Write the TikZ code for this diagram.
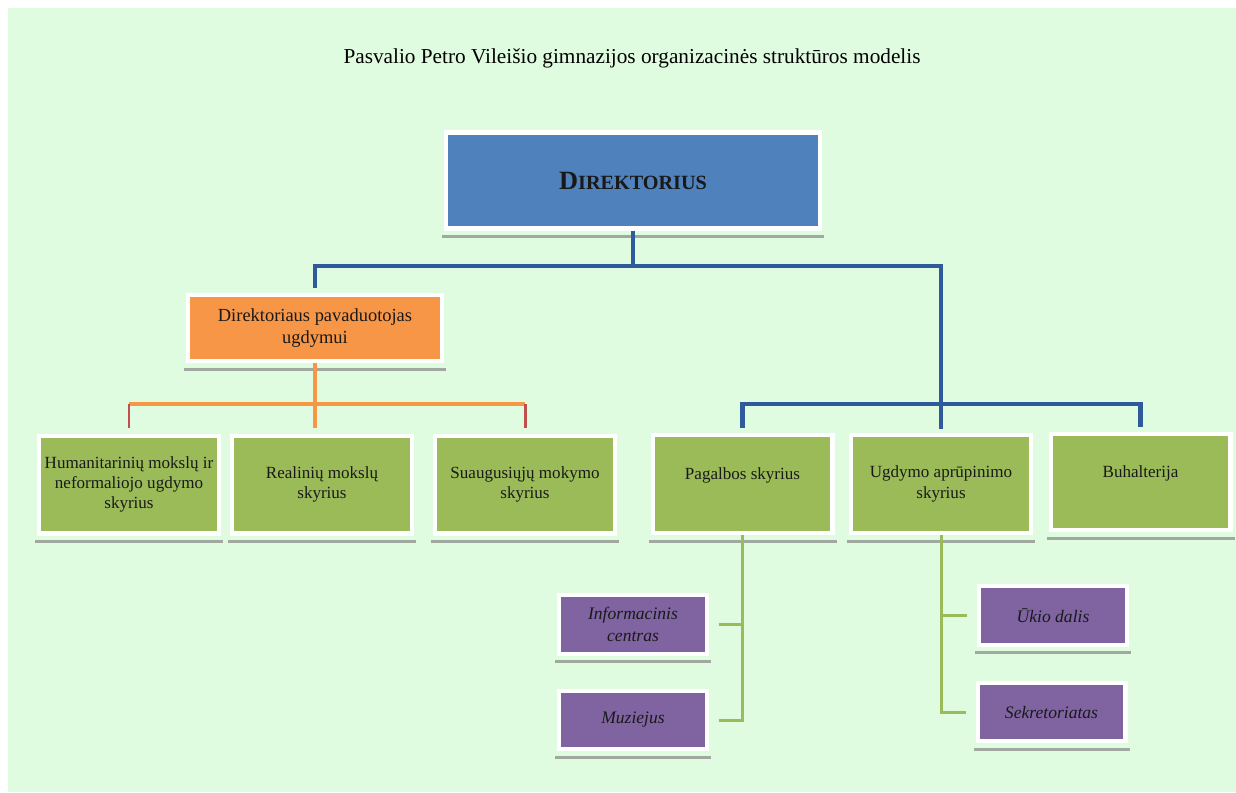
\documentclass[tikz,border=0pt]{standalone}
\usepackage{fontspec}
\setmainfont{Liberation Serif}

\definecolor{bgGreen}{RGB}{224,252,224}
\definecolor{dirBlue}{RGB}{79,129,189}
\definecolor{lineBlue}{RGB}{47,90,155}
\definecolor{pavOrange}{RGB}{247,150,70}
\definecolor{tickRed}{RGB}{192,80,77}
\definecolor{boxGreen}{RGB}{155,187,89}
\definecolor{boxPurple}{RGB}{128,100,162}
\definecolor{shadowGray}{RGB}{160,168,160}

\begin{document}
\begin{tikzpicture}[x=0.02cm,y=-0.02cm,
    box/.style={draw=white,line width=2.3pt,align=center,inner sep=0pt,text=black!90},
    dirbox/.style={box,fill=dirBlue,minimum width=7.5cm,minimum height=1.92cm,font=\bfseries},
    pavbox/.style={box,fill=pavOrange,minimum width=5.08cm,minimum height=1.32cm,
      font=\fontsize{10.5}{13}\selectfont},
    gbox/.style={box,fill=boxGreen,minimum width=3.6cm,minimum height=1.96cm,
      font=\fontsize{9.7}{11.5}\selectfont},
    pbox/.style={box,fill=boxPurple,minimum width=2.96cm,minimum height=1.17cm,
      font=\fontsize{10}{12.5}\selectfont\itshape},
    shadowline/.style={shadowGray,line width=1.7pt},
    bline/.style={lineBlue,line width=2.8pt},
    oline/.style={pavOrange,line width=2.8pt},
    rline/.style={tickRed,line width=1.7pt},
    gline/.style={boxGreen,line width=1.7pt}]

    \useasboundingbox (0,0) rectangle (1236,792);
    \fill [white] (0,0) rectangle (1236,792);
    \fill [bgGreen] (8,8) rectangle (1236,792);

    \node (title) at (632,58) {\fontsize{12.1}{14}\selectfont Pasvalio Petro Vileišio gimnazijos organizacinės struktūros modelis};

    \node [dirbox] (dir) at (633,180.5) {{\fontsize{15}{15}\selectfont D}\fontsize{11.5}{15}\selectfont IREKTORIUS};
    \node [pavbox] (pav) at (315,328) {Direktoriaus pavaduotojas\\ugdymui};

    \node [gbox] (hum) at (129,484.5) {Humanitarinių mokslų ir\\neformaliojo ugdymo\\skyrius};
    \node [gbox] (rea) at (322,484.5) {Realinių mokslų\\skyrius};
    \node [gbox] (sua) at (525,484.5) {Suaugusiųjų mokymo\\skyrius};
    \node [gbox] (pag) at (742.5,484) {Pagalbos skyrius\\~};
    \node [gbox] (ugd) at (941,484) {Ugdymo aprūpinimo\\skyrius};
    \node [gbox,minimum height=1.92cm] (buh) at (1140.5,482) {Buhalterija\\~};

    \node [pbox] (inf) at (633,624.5) {Informacinis\\centras};
    \node [pbox] (muz) at (633,720) {Muziejus};
    \node [pbox] (uki) at (1053,615.5) {Ūkio dalis};
    \node [pbox] (sek) at (1051.5,712) {Sekretoriatas};

    % shadows under the boxes
    \foreach \n in {dir,pav,hum,rea,sua,pag,ugd,buh,inf,muz,uki,sek}
      \draw [shadowline] ([shift={(-2,6)}]\n.south west) -- ([shift={(2,6)}]\n.south east);

    % director lines
    \coordinate (busTop) at (633,266);
    \coordinate (busRight) at (941,404);
    \coordinate (busLeft) at (315,404);
    \draw [bline] (dir.south) -- (busTop);
    \draw [bline,shorten <=3pt] (pav.north) |- (busTop) -| (busRight);
    \draw [bline,shorten <=3pt,shorten >=3pt] (pag.north) |- (busRight) -| (buh.north);
    \draw [bline,shorten >=2pt] (busRight) -- (ugd.north);

    % deputy lines
    \draw [oline,shorten >=3pt] (pav.south) -- (pav.south |- rea.north);
    \draw [oline] (hum.north |- busLeft) -- (sua.north |- busLeft);
    \draw [rline,shorten >=3pt] (hum.north |- busLeft) -- (hum.north);
    \draw [rline,shorten >=3pt] (sua.north |- busLeft) -- (sua.north);

    % sub units
    \draw [gline] (pag.south) |- ([xshift=0.2cm]muz.east);
    \draw [gline] (pag.south |- inf.east) -- ([xshift=0.2cm]inf.east);
    \draw [gline] (ugd.south) |- ([xshift=-0.2cm]sek.west);
    \draw [gline] (ugd.south |- uki.west) -- ([xshift=-0.2cm]uki.west);
\end{tikzpicture}
\end{document}
